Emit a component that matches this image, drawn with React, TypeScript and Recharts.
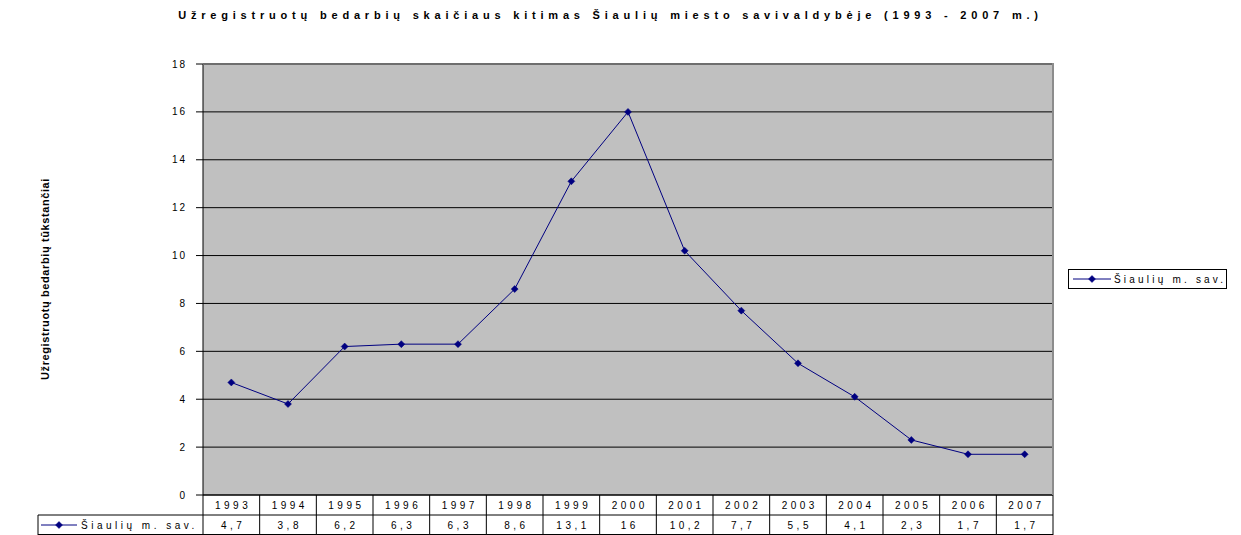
import { LineChart, Line, XAxis, YAxis, CartesianGrid, Legend } from 'recharts';

const YEARS = ['1993', '1994', '1995', '1996', '1997', '1998', '1999', '2000', '2001', '2002', '2003', '2004', '2005', '2006', '2007'];
const VALUES = [4.7, 3.8, 6.2, 6.3, 6.3, 8.6, 13.1, 16, 10.2, 7.7, 5.5, 4.1, 2.3, 1.7, 1.7];
const Y_TICKS = [0, 2, 4, 6, 8, 10, 12, 14, 16, 18];
const SERIES_NAME = 'Šiaulių m. sav.';
const TITLE = 'Užregistruotų bedarbių skaičiaus kitimas Šiaulių miesto savivaldybėje (1993 - 2007 m.)';
const Y_LABEL = 'Užregistruotų bedarbių tūkstančiai';

const W = 1241;
const H = 535;
const M = { top: 64, right: 188, bottom: 0, left: 143 };
const Y_AXIS_W = 60;
const X_AXIS_H = 40;
const PLOT_W = W - M.left - M.right - Y_AXIS_W;
const CELL = PLOT_W / YEARS.length;
const ROW = X_AXIS_H / 2;
const NAVY = '#000080';
const FONT = '"Liberation Sans", Arial, sans-serif';

const data = YEARS.map((year, i) => ({ year, value: VALUES[i] }));

const fmt = (v: number) => String(v).replace('.', ',');

function Diamond({ cx, cy }: any) {
  if (cx == null || cy == null) return null;
  const r = 3.5;
  return <polygon points={`${cx},${cy - r} ${cx + r},${cy} ${cx},${cy + r} ${cx - r},${cy}`} fill={NAVY} stroke={NAVY} strokeWidth={0.5} />;
}

// the x axis is drawn as Excel's data table: year row + value row
function TableTick({ x, y, payload, index }: any) {
  const left = x - CELL / 2;
  const txt = { fontFamily: FONT, fontSize: 10, letterSpacing: 3.5, fill: '#000', textAnchor: 'middle' as const };
  const legendLeft = 38;
  return (
    <g>
      <line x1={left} y1={y} x2={left} y2={y + 2 * ROW} stroke="#000" />
      <line x1={left} y1={y + ROW} x2={left + CELL} y2={y + ROW} stroke="#000" />
      <line x1={left} y1={y + 2 * ROW - 0.5} x2={left + CELL} y2={y + 2 * ROW - 0.5} stroke="#000" />
      {index === YEARS.length - 1 && (
        <line x1={left + CELL} y1={y} x2={left + CELL} y2={y + 2 * ROW} stroke="#000" />
      )}
      <text x={x + 1.75} y={y + 14} {...txt}>{payload.value}</text>
      <text x={x + 1.75} y={y + ROW + 14} {...txt}>{fmt(VALUES[index])}</text>
      {index === 0 && (
        <g>
          <line x1={legendLeft} y1={y + ROW} x2={left} y2={y + ROW} stroke="#000" />
          <line x1={legendLeft} y1={y + ROW} x2={legendLeft} y2={y + 2 * ROW} stroke="#000" />
          <line x1={legendLeft} y1={y + 2 * ROW - 0.5} x2={left} y2={y + 2 * ROW - 0.5} stroke="#000" />
          <line x1={legendLeft + 3} y1={y + ROW + 10} x2={legendLeft + 39} y2={y + ROW + 10} stroke={NAVY} />
          <Diamond cx={legendLeft + 21} cy={y + ROW + 10} />
          <text x={legendLeft + 43} y={y + ROW + 14} {...txt} textAnchor="start">{SERIES_NAME}</text>
        </g>
      )}
    </g>
  );
}

function LegendBox() {
  return (
    <div
      style={{
        border: '1px solid #000',
        background: '#fff',
        display: 'flex',
        alignItems: 'center',
        height: 20,
        boxSizing: 'border-box',
        padding: '0 0 0 4px',
        fontFamily: FONT,
        fontSize: 10,
        letterSpacing: 3.2,
        whiteSpace: 'nowrap',
      }}
    >
      <svg width={38} height={10} style={{ marginRight: 3 }}>
        <line x1={0} y1={5} x2={38} y2={5} stroke={NAVY} />
        <Diamond cx={19} cy={5} />
      </svg>
      {SERIES_NAME}
    </div>
  );
}

export default function App() {
  return (
    <div style={{ position: 'absolute', left: 0, top: 0, width: W, height: H, background: '#fff', fontFamily: FONT }}>
      <div
        style={{
          position: 'absolute',
          top: 9,
          left: 0,
          width: W - 20,
          textAlign: 'center',
          fontSize: 11,
          fontWeight: 'bold',
          letterSpacing: 4.8,
          whiteSpace: 'nowrap',
        }}
      >
        {TITLE}
      </div>
      <div
        style={{
          position: 'absolute',
          left: 45,
          top: 279,
          transform: 'translate(-50%, -50%) rotate(-90deg)',
          whiteSpace: 'nowrap',
          fontSize: 11,
          fontWeight: 'bold',
          letterSpacing: 0.6,
        }}
      >
        {Y_LABEL}
      </div>
      <LineChart width={W} height={H} data={data} margin={M}>
        <CartesianGrid vertical={false} stroke="#000" fill="#c0c0c0" fillOpacity={1} />
        <XAxis
          dataKey="year"
          scale="band"
          height={X_AXIS_H}
          interval={0}
          tickSize={0}
          tickMargin={0}
          axisLine={{ stroke: '#000' }}
          tickLine={false}
          tick={<TableTick />}
        />
        <YAxis
          domain={[0, 18]}
          ticks={Y_TICKS}
          width={Y_AXIS_W}
          interval={0}
          tickSize={7}
          tickMargin={9}
          axisLine={{ stroke: '#000' }}
          tickLine={{ stroke: '#000' }}
          tick={{ fill: '#000', fontSize: 10, fontFamily: FONT, letterSpacing: 2 }}
        />
        <Legend
          layout="vertical"
          verticalAlign="middle"
          align="center"
          wrapperStyle={{ left: 1068, top: 269, width: 'auto' }}
          content={() => <LegendBox />}
        />
        <Line
          type="linear"
          dataKey="value"
          name={SERIES_NAME}
          stroke={NAVY}
          strokeWidth={1}
          dot={<Diamond />}
          activeDot={false}
          isAnimationActive={false}
        />
      </LineChart>
      {/* gray plot-area frame, top and right */}
      <div style={{ position: 'absolute', left: M.left + Y_AXIS_W, top: M.top - 1, width: PLOT_W, height: 2, background: '#6e6e6e' }} />
      <div style={{ position: 'absolute', left: W - M.right - 1, top: M.top - 1, width: 2, height: H - M.top - X_AXIS_H + 1, background: '#8c8c8c' }} />
    </div>
  );
}
